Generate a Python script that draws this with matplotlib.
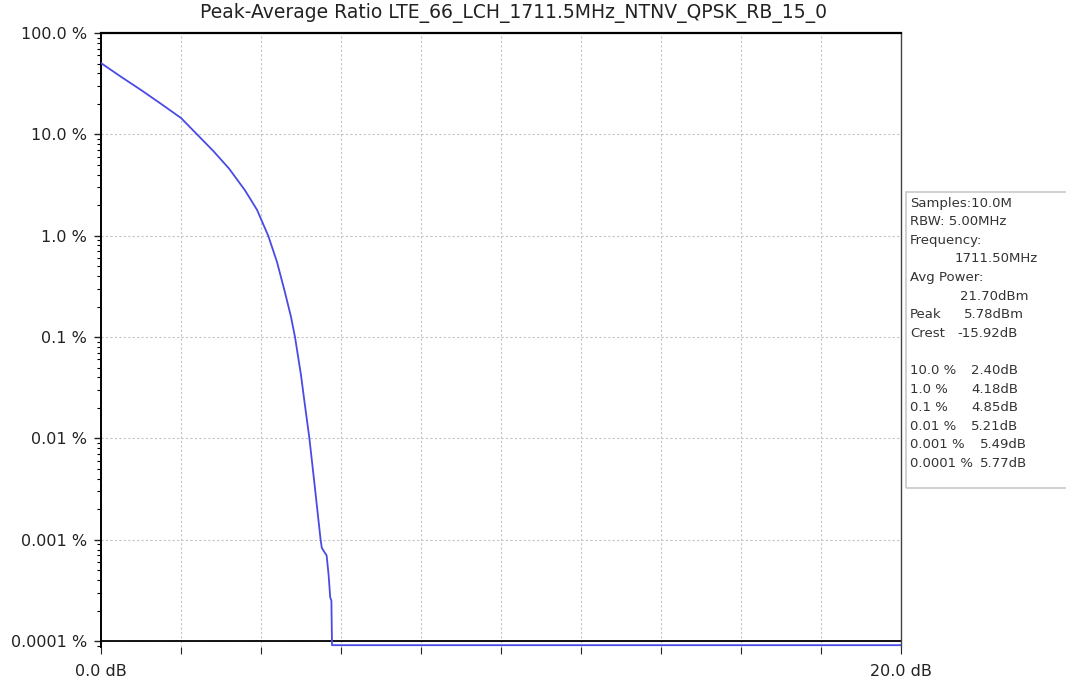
import matplotlib
matplotlib.use("Agg")
from matplotlib import pyplot as plt
from matplotlib.patches import Rectangle
from matplotlib.ticker import FixedLocator, FixedFormatter, LogLocator, NullFormatter

# CCDF curve (x in dB, y in %)
level_db = [0.0, 0.5, 1.0, 1.5, 2.0, 2.4, 2.8, 3.2, 3.6, 3.9, 4.18, 4.4, 4.6,
            4.75, 4.85, 5.0, 5.1, 5.21, 5.35, 5.49, 5.52, 5.58, 5.64, 5.69,
            5.73, 5.76, 5.775, 20.0]
prob_pct = [50.5, 37.0, 27.4, 20.0, 14.5, 10.0, 6.9, 4.6, 2.8, 1.8, 1.0, 0.55,
            0.275, 0.158, 0.1, 0.042, 0.021, 0.01, 0.0032, 0.001, 0.00083,
            0.00076, 0.0007, 0.00045, 0.00027, 0.00025, 0.000091, 0.000091]

y_ticks = [100, 10, 1, 0.1, 0.01, 0.001, 0.0001]
y_labels = ["100.0 %", "10.0 %", "1.0 %", "0.1 %", "0.01 %", "0.001 %", "0.0001 %"]
x_ticks = [0, 2, 4, 6, 8, 10, 12, 14, 16, 18, 20]
x_labels = ["0.0 dB", "", "", "", "", "", "", "", "", "", "20.0 dB"]

info_left = ["Samples:10.0M", "RBW: 5.00MHz", "Frequency:", "", "Avg Power:", "",
             "Peak", "Crest", "", "10.0 %", "1.0 %", "0.1 %", "0.01 %",
             "0.001 %", "0.0001 %"]
info_right = ["", "", "", "1711.50MHz", "", "21.70dBm", "5.78dBm", "-15.92dB", "",
              "2.40dB", "4.18dB", "4.85dB", "5.21dB", "5.49dB", "5.77dB"]
info_right_x = [0, 0, 0, 955, 0, 960, 964, 957, 0, 971, 971, 971, 971, 980, 980]

W, H = 1066, 685
fig = plt.figure(figsize=(W / 100, H / 100), dpi=100)
ax = fig.add_axes([101 / W, 1 - 647 / H, 800 / W, 614 / H])

ax.plot(level_db, prob_pct, color="#4a4ae6", lw=1.3, zorder=3)
ax.axhline(0.0001, color="black", lw=1.3, zorder=2)

ax.set_yscale("log")
ax.set_xlim(0, 20)
ax.set_ylim(0.0000873, 100)

ax.yaxis.set_major_locator(FixedLocator(y_ticks))
ax.yaxis.set_major_formatter(FixedFormatter(y_labels))
ax.yaxis.set_minor_locator(LogLocator(base=10, subs=range(2, 10), numticks=20))
ax.yaxis.set_minor_formatter(NullFormatter())
ax.xaxis.set_major_locator(FixedLocator(x_ticks))
ax.xaxis.set_major_formatter(FixedFormatter(x_labels))

ax.grid(True, which="major", color="#c4c4c4", lw=0.8, ls=(0, (2, 2)))
ax.tick_params(axis="y", which="major", length=5, width=1, pad=5, labelsize=11.5, colors="#222222")
ax.tick_params(axis="y", which="minor", length=3, width=0.8)
ax.tick_params(axis="x", which="major", length=5, width=0.8, pad=7, labelsize=11.5, colors="#222222")

ax.spines["bottom"].set_visible(False)
ax.spines["top"].set_linewidth(1.6)
ax.spines["left"].set_linewidth(1.4)
ax.spines["right"].set_linewidth(1.0)
ax.spines["right"].set_color("#444444")

fig.text(513 / W, 1 - 13 / H, "Peak-Average Ratio LTE_66_LCH_1711.5MHz_NTNV_QPSK_RB_15_0",
         ha="center", va="center", fontsize=13.5, color="#222222")

# info box on the right, cut by the figure edge
fig.patches.append(Rectangle((906 / W, 1 - 488 / H), 170 / W, 296 / H,
                             transform=fig.transFigure, fill=False,
                             edgecolor="#c8c8c8", lw=1.2))
row_y = 203
for left, right, rx in zip(info_left, info_right, info_right_x):
    if left:
        fig.text(910 / W, 1 - row_y / H, left, ha="left", va="center",
                 fontsize=9.5, color="#333333")
    if right:
        fig.text(rx / W, 1 - row_y / H, right, ha="left", va="center",
                 fontsize=9.5, color="#333333")
    row_y += 18.6

fig.savefig("out.png", dpi=100)
